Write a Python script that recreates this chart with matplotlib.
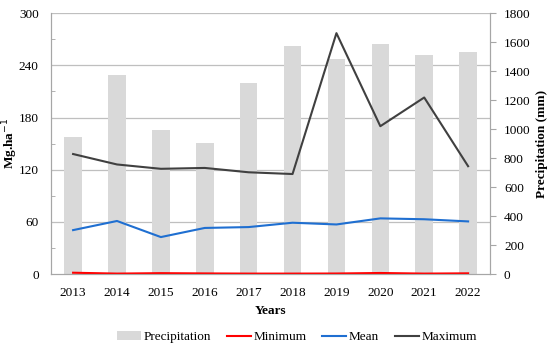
import matplotlib.pyplot as plt
import numpy as np

# Data
years = ["2013", "2014", "2015", "2016", "2017", "2018", "2019", "2020", "2021", "2022"]
precipitation = [945, 1372, 993, 903, 1317, 1572, 1483, 1586, 1510, 1531]
minimum = [1.5, 0.5, 1.0, 0.7, 0.5, 0.5, 0.6, 1.2, 0.5, 0.8]
mean = [50.5, 61, 42.5, 53, 54, 59, 57, 64, 63, 60.5]
maximum = [138, 126, 121, 122, 117, 115, 277, 170, 203, 124]

plt.rcParams['font.family'] = ['Liberation Serif', 'DejaVu Serif']
plt.rcParams['font.size'] = 9.5

fig, ax = plt.subplots(figsize=(5.5, 3.46), dpi=100)
ax2 = ax.twinx()

x = np.arange(len(years))

# bars on the secondary axis, lines on the primary
ax2.bar(x, precipitation, width=0.4, color="#d9d9d9", label="Precipitation", zorder=1)
ax.set_zorder(ax2.get_zorder() + 1)
ax.patch.set_visible(False)

ax.plot(x, minimum, color="#ff0000", lw=1.5, label="Minimum")
ax.plot(x, mean, color="#1f6fd1", lw=1.5, label="Mean")
ax.plot(x, maximum, color="#404040", lw=1.5, label="Maximum")

ax.set_ylim(0, 300)
ax.set_yticks(np.arange(0, 301, 60))
ax.set_yticks(np.arange(30, 300, 60), minor=True)
ax2.set_ylim(0, 1800)
ax2.set_yticks(np.arange(0, 1801, 200))
ax.set_xlim(-0.5, len(years) - 0.5)
ax.set_xticks(x)
ax.set_xticklabels(years)

# horizontal grid drawn beneath bars
for v in np.arange(60, 301, 60):
    ax2.axhline(v * 6, color="#bfbfbf", lw=0.9, zorder=0)

for a in (ax, ax2):
    a.spines['top'].set_visible(False)
    for s in ('left', 'right', 'bottom'):
        a.spines[s].set_color("#a6a6a6")
ax.tick_params(axis='x', length=0, pad=9)
ax.tick_params(axis='y', which='major', length=0, pad=9)
ax.tick_params(axis='y', which='minor', direction='in', color="#a6a6a6", length=3)
ax2.tick_params(axis='y', color="#a6a6a6", length=4, pad=6)

ax.set_xlabel("Years", fontweight="bold", labelpad=5)
ax.set_ylabel("Mg.ha$^{-1}$", fontweight="bold")
ax.yaxis.set_label_coords(-0.07, 0.5)
ax2.set_ylabel("Precipitation (mm)", fontweight="bold")
ax2.yaxis.set_label_coords(1.105, 0.5)

h1, l1 = ax2.get_legend_handles_labels()
h2, l2 = ax.get_legend_handles_labels()
fig.legend(h1 + h2, l1 + l2, loc="center", ncol=4, frameon=False,
           bbox_to_anchor=(0.54, 0.026), handlelength=1.8, handletextpad=0.2,
           columnspacing=1.2, borderaxespad=0)

fig.subplots_adjust(left=0.093, right=0.891, top=0.962, bottom=0.208)
fig.savefig("out.png")
